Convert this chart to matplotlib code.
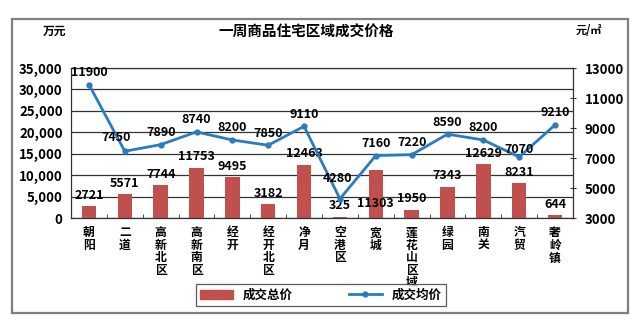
import matplotlib
matplotlib.use("Agg")
import matplotlib.pyplot as plt
from matplotlib.patches import Rectangle
from matplotlib.ticker import FuncFormatter, FixedLocator
import numpy as np

plt.rcParams['font.family'] = ['Noto Sans CJK SC', 'DejaVu Sans']

districts = ["朝阳", "二道", "高新北区", "高新南区", "经开", "经开北区", "净月",
             "空港区", "宽城", "莲花山区域", "绿园", "南关", "汽贸", "奢岭镇"]
total_price = [2721, 5571, 7744, 11753, 9495, 3182, 12463, 325, 11303, 1950,
               7343, 12629, 8231, 644]
avg_price = [11900, 7450, 7890, 8740, 8200, 7850, 9110, 4280, 7160, 7220,
             8590, 8200, 7070, 9210]
left_ticks = [0, 5000, 10000, 15000, 20000, 25000, 30000, 35000]
right_ticks = [3000, 5000, 7000, 9000, 11000, 13000]

bar_color = "#C0504D"
line_color = "#2A7BC0"

fig = plt.figure(figsize=(6.4, 3.28), dpi=100)
fig.patch.set_facecolor("white")
fig.add_artist(Rectangle((12 / 640, 1 - 313 / 328), 616 / 640, 294 / 328,
                         transform=fig.transFigure, fill=False,
                         edgecolor="#7f7f7f", linewidth=1.6))

ax = fig.add_axes([71 / 640, 1 - 218 / 328, 502 / 640, 150 / 328])
x = np.arange(len(districts))
ax.bar(x, total_price, width=0.4, color=bar_color, zorder=2)
ax.set_xlim(-0.5, len(districts) - 0.5)
ax.set_ylim(0, 35000)
ax.yaxis.set_major_locator(FixedLocator(left_ticks))
ax.yaxis.set_major_formatter(FuncFormatter(lambda v, p: f"{int(v):,}"))
ax.grid(axis="y", color="#333333", linewidth=0.9, zorder=0)
ax.set_axisbelow(True)
for s in ax.spines.values():
    s.set_color("#333333")
    s.set_linewidth(0.9)
ax.tick_params(axis="y", length=0, labelsize=9.5, pad=6)
for lbl in ax.get_yticklabels():
    lbl.set_fontweight("bold")

ax.set_xticks(x)
ax.set_xticklabels(["\n".join(d) for d in districts], fontsize=8.5,
                   fontweight="bold", linespacing=0.95, va="top")
ax.tick_params(axis="x", length=0, pad=6)
ax.set_xticks(np.arange(0.5, len(districts) - 0.5, 1), minor=True)
ax.tick_params(axis="x", which="minor", direction="in", length=3,
               color="#333333")

bar_offsets = {8: -32}
for i, v in enumerate(total_price):
    ax.annotate(str(v), (x[i], v), xytext=(0, 3 + bar_offsets.get(i, 0)),
                textcoords="offset points", ha="center", va="bottom",
                fontsize=9, fontweight="bold", zorder=5)

ax2 = ax.twinx()
ax2.set_ylim(3000, 13000)
ax2.yaxis.set_major_locator(FixedLocator(right_ticks))
ax2.plot(x, avg_price, color=line_color, linewidth=2, marker="o",
         markersize=3.5, zorder=4)
ax2.tick_params(axis="y", direction="inout", length=5, labelsize=9.5,
                pad=6, color="#333333")
for lbl in ax2.get_yticklabels():
    lbl.set_fontweight("bold")
for s in ax2.spines.values():
    s.set_visible(False)

line_offsets = {1: (-6, 5), 7: (-2, 10), 12: (0, 1)}
for i, v in enumerate(avg_price):
    dx, dy = line_offsets.get(i, (0, 4))
    ax2.annotate(str(v), (x[i], v), xytext=(dx, dy),
                 textcoords="offset points", ha="center", va="bottom",
                 fontsize=9, fontweight="bold", zorder=5)

fig.text(306 / 640, 1 - 32 / 328, "一周商品住宅区域成交价格", ha="center",
         va="center", fontsize=10.5, fontweight="bold")
fig.text(55 / 640, 1 - 31 / 328, "万元", ha="center", va="center",
         fontsize=8.5, fontweight="bold")
fig.text(589 / 640, 1 - 31 / 328, "元/㎡", ha="center", va="center",
         fontsize=8, fontweight="bold")

bars_handle = Rectangle((0, 0), 1, 1, color=bar_color)
line_handle = plt.Line2D([], [], color=line_color, linewidth=2, marker="o",
                         markersize=3.5)
leg = fig.legend([bars_handle, line_handle], ["成交总价", "成交均价"],
                 loc="center", bbox_to_anchor=(321 / 640, 1 - 295 / 328),
                 ncol=2, frameon=True, fancybox=False, edgecolor="#333333",
                 prop={"size": 9, "weight": "bold"}, handlelength=2.6,
                 columnspacing=4.5, borderpad=0.35)
leg.get_frame().set_linewidth(0.9)

fig.savefig("out.png", dpi=100, facecolor="white")
